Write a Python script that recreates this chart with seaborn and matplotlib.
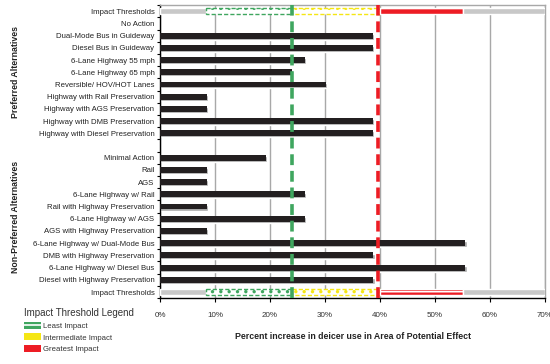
import numpy as np
import pandas as pd
import matplotlib
matplotlib.use("Agg")
import matplotlib.pyplot as plt
import seaborn as sns
from matplotlib.patches import Patch
from matplotlib.ticker import FuncFormatter, MultipleLocator

# rows from top to bottom ("" = spacer row)
labels = ["Impact Thresholds", "No Action", "Dual-Mode Bus in Guideway", "Diesel Bus in Guideway",
          "6-Lane Highway 55 mph", "6-Lane Highway 65 mph", "Reversible/ HOV/HOT Lanes",
          "Highway with Rail Preservation", "Highway with AGS Preservation",
          "Highway with DMB Preservation", "Highway with Diesel Preservation", "",
          "Minimal Action", "Rail", "AGS", "6-Lane Highway w/ Rail", "Rail with Highway Preservation",
          "6-Lane Highway w/ AGS", "AGS with Highway Preservation", "6-Lane Highway w/ Dual-Mode Bus",
          "DMB with Highway Preservation", "6-Lane Highway w/ Diesel Bus",
          "Diesel with Highway Preservation", "Impact Thresholds"]
values = [np.nan, np.nan, 38.7, 38.7, 26.3, 23.9, 30.1, 8.5, 8.5, 38.7, 38.7, np.nan,
          19.2, 8.5, 8.5, 26.3, 8.5, 26.3, 8.5, 55.5, 38.8, 55.5, 38.8, np.nan]

# threshold bands (percent)
band_edges = [0, 8.4, 24, 40, 55, 70]
band_names = ["", "Least Impact", "Intermediate Impact", "Greatest Impact", ""]
band_colors = ["#c8c8c8", "#3fa65f", "#f5e614", "#ed1c24", "#c8c8c8"]
least_line = 24
greatest_line = 39.6

sns.set_style("white")
plt.rcParams["font.family"] = ["Liberation Sans", "DejaVu Sans"]
plt.rcParams["hatch.linewidth"] = 1.2

fig, ax = plt.subplots(figsize=(5.5, 3.64), dpi=100)
fig.subplots_adjust(left=0.291, right=0.991, top=0.986, bottom=0.181)

row_ids = [f"r{i}" for i in range(len(labels))]
df = pd.DataFrame({"row": row_ids, "value": values}).dropna()
pos = np.arange(len(labels))
H = 0.48

ax.set_axisbelow(True)
ax.xaxis.grid(True, color="#a8a8a8", linewidth=1)

# shadow then bars
shadow_pos = np.array([row_ids.index(r) for r in df["row"]])
ax.barh(shadow_pos + 0.09, df["value"] + 0.25, height=H, color="#a8a8a8", zorder=2)
sns.barplot(data=df, x="value", y="row", order=row_ids, orient="h", color="#231f20",
            width=H, saturation=1, linewidth=0, ax=ax, zorder=3)

# threshold rows
for row in [0, len(labels) - 1]:
    for i in range(len(band_names)):
        left, w = band_edges[i], band_edges[i + 1] - band_edges[i]
        c = band_colors[i]
        if i in (0, 4):
            ax.barh(row, w, left=left, height=H, color=c, zorder=3)
        elif i == 3:
            ax.barh(row, w, left=left, height=H, color=c, zorder=3)
            ax.barh(row, w, left=left, height=H * 0.6, facecolor="none", edgecolor="white",
                    hatch="-", linewidth=0.01, zorder=4)
        else:
            ax.barh(row, w, left=left, height=H, facecolor="white", edgecolor=c,
                    hatch="..", linewidth=1, linestyle=(0, (3, 1.5)), zorder=3)

ax.axvline(least_line, color="#3fa65f", linewidth=2.6, linestyle=(0, (3, 1.6)), zorder=5)
ax.axvline(greatest_line, color="#ed1c24", linewidth=2.6, linestyle=(0, (3, 1.6)), zorder=5)

ax.set_xlim(0, 70)
ax.set_ylim(len(labels) - 0.5, -0.5)
ax.xaxis.set_major_locator(MultipleLocator(10))
ax.xaxis.set_major_formatter(FuncFormatter(lambda v, p: f"{v:.0f}%"))
ax.set_yticks(pos)
ax.set_yticklabels(labels)
ax.set_yticks(np.arange(len(labels) + 1) - 0.5, minor=True)
ax.tick_params(axis="y", which="major", length=0, labelsize=5.6, labelcolor="#222", pad=4)
ax.tick_params(axis="y", which="minor", length=2.5, width=0.8, color="black", direction="out", left=True)
ax.tick_params(axis="x", length=3, width=0.8, color="black", direction="out", bottom=True,
               labelsize=5.8, labelcolor="#333", pad=7)
ax.set_ylabel("")
ax.set_xlabel("Percent increase in deicer use in Area of Potential Effect",
              fontsize=6.3, fontweight="bold", color="#222", labelpad=9)

for s in ["left", "bottom"]:
    ax.spines[s].set_color("black")
    ax.spines[s].set_linewidth(1)
for s in ["top", "right"]:
    ax.spines[s].set_color("#a8a8a8")
    ax.spines[s].set_linewidth(1)

fig.text(0.028, 1 - 72 / 364, "Preferred Alternatives", rotation=90, fontsize=6.3,
         fontweight="bold", color="#222", ha="center", va="center")
fig.text(0.028, 1 - 217 / 364, "Non-Preferred Alternatives", rotation=90, fontsize=6.3,
         fontweight="bold", color="#222", ha="center", va="center")

handles = [Patch(facecolor=band_colors[i], edgecolor="white", hatch="-", linewidth=0.01,
                 label=band_names[i]) for i in (1, 2, 3)]
leg = fig.legend(handles=handles, title="Impact Threshold Legend", loc="upper left",
                 bbox_to_anchor=(0.033, 0.168), frameon=False, fontsize=5.6,
                 title_fontsize=7, alignment="left", handlelength=2.2, handleheight=1.0,
                 handletextpad=0.3, labelspacing=0.45, borderpad=0.2)
leg.get_title().set_color("#333")
for t in leg.get_texts():
    t.set_color("#333")

fig.savefig("out.png", dpi=100)
